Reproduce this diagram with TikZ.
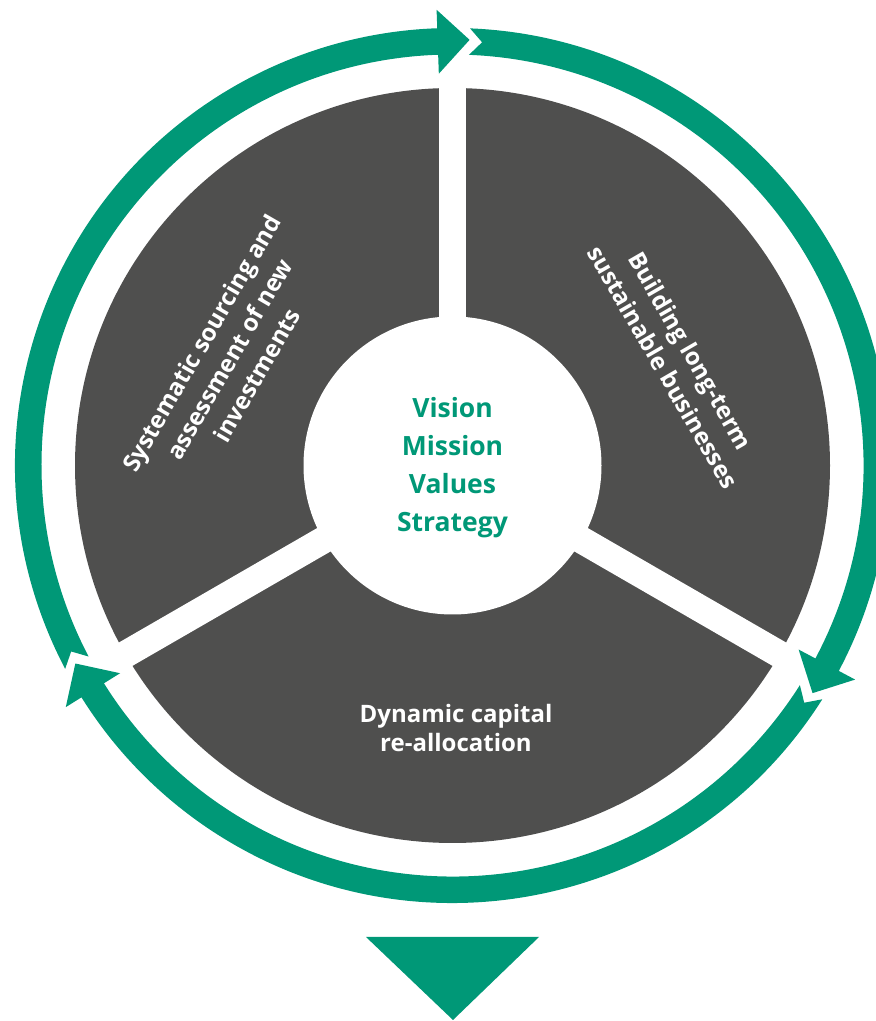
\documentclass[tikz,border=0pt]{standalone}
\usepackage{fontspec}
\setmainfont{Open Sans}
\definecolor{cgreen}{RGB}{0,152,119}
\definecolor{cdark}{RGB}{79,79,78}
\tikzset{
  ringseg/.style={fill=cgreen, draw=none},
  gapline/.style={draw=white, line width=27pt},
  centertext/.style={text=cgreen, align=center, font=\fontsize{26.5}{38}\selectfont\bfseries},
  sectortext/.style={text=white, align=center, font=\fontsize{24}{29}\selectfont\bfseries},
  slanttext/.style={sectortext, font=\fontsize{24}{32}\selectfont\bfseries}
}
\newcommand{\ringpiece}[2]{% #1 = tail angle, #2 = back-edge angle (clockwise)
  \fill[ringseg] (#1:437.5pt) arc[start angle=#1, end angle=#2, radius=437.5pt]
    -- (#2:456pt) -- ({#2-4.3}:426pt) -- (#2:392pt) -- (#2:411pt)
    arc[start angle=#2, end angle=#1, radius=411pt]
    -- ({#1-1.7}:424.25pt) -- cycle;}
\begin{document}
\begin{tikzpicture}[x=1pt,y=1pt]
\useasboundingbox (0,0) rectangle (876,1021);
\coordinate (C) at (452.5,555.5);
\begin{scope}[shift={(C)}]
  % dark disk
  \fill[cdark] (0,0) circle[radius=377.5pt];
  % white gaps
  \draw[gapline] (0,0) -- (90:400pt);
  \draw[gapline] (0,0) -- (210:400pt);
  \draw[gapline] (0,0) -- (330:400pt);
  % centre disk
  \fill[white] (0,0) circle[radius=149pt];
  % green ring pieces with arrowheads
  \ringpiece{87.7}{-28}
  \ringpiece{-32.3}{-148}
  \ringpiece{-152.3}{-268}
\end{scope}
% bottom triangle
\coordinate (t1) at (366,84);
\coordinate (t2) at (539,84);
\coordinate (t3) at (453,1);
\fill[cgreen] (t1) -- (t2) -- (t3) -- cycle;
% texts
\node[centertext] (core) at (452.5,553) {Vision\\Mission\\Values\\Strategy};
\node[sectortext] (bottom) at (456,293) {Dynamic capital\\re-allocation};
\node[slanttext, rotate=60] (left) at (229,662) {Systematic sourcing and\\assessment of new\\investments};
\node[slanttext, rotate=-60] (right) at (677,662) {Building long-term\\sustainable businesses};
\end{tikzpicture}
\end{document}
